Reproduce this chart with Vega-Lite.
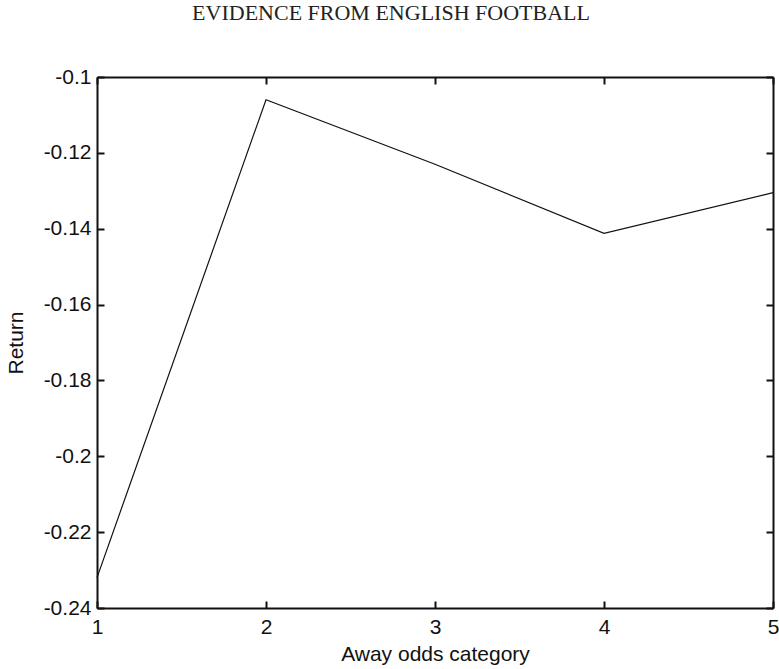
{
  "$schema": "https://vega.github.io/schema/vega-lite/v6.json",
  "autosize": "none",
  "width": 676,
  "height": 531,
  "padding": {"left": 97, "top": 77, "right": 6, "bottom": 61},
  "background": "white",
  "title": {
    "text": "EVIDENCE FROM ENGLISH FOOTBALL",
    "font": "Liberation Serif",
    "fontSize": 22,
    "fontWeight": "normal",
    "color": "#222222",
    "anchor": "middle",
    "baseline": "alphabetic",
    "offset": 24,
    "dx": -44
  },
  "data": {
    "values": [
      {"category": 1, "ret": -0.232},
      {"category": 2, "ret": -0.106},
      {"category": 3, "ret": -0.123},
      {"category": 4, "ret": -0.1412},
      {"category": 5, "ret": -0.1305}
    ]
  },
  "config": {
    "view": {"stroke": null},
    "axis": {
      "grid": false,
      "domainColor": "#111111",
      "domainWidth": 2,
      "tickColor": "#111111",
      "tickWidth": 2,
      "tickSize": -7,
      "labelFont": "Liberation Sans",
      "labelFontSize": 21,
      "labelColor": "#111111",
      "titleFont": "Liberation Sans",
      "titleFontSize": 21,
      "titleFontWeight": "normal",
      "titleColor": "#111111"
    }
  },
  "layer": [
    {
      "mark": {"type": "line", "color": "#111111", "strokeWidth": 1.2},
      "encoding": {
        "x": {
          "field": "category",
          "type": "quantitative",
          "scale": {"domain": [1, 5], "nice": false, "zero": false},
          "axis": {
            "orient": "bottom",
            "values": [1, 2, 3, 4, 5],
            "format": "d",
            "title": "Away odds category",
            "labelPadding": 15,
            "titlePadding": 6,
            "labelFlush": false
          }
        },
        "y": {
          "field": "ret",
          "type": "quantitative",
          "scale": {"domain": [-0.24, -0.1], "nice": false, "zero": false},
          "axis": {
            "orient": "left",
            "values": [-0.24, -0.22, -0.2, -0.18, -0.16, -0.14, -0.12, -0.1],
            "labelExpr": "replace(format(datum.value, '.2~f'), '\u2212', '-')",
            "title": "Return",
            "labelPadding": 13,
            "titlePadding": 17,
            "labelFlush": false
          }
        }
      }
    },
    {
      "mark": {"type": "line", "color": "black", "strokeWidth": 1, "opacity": 0},
      "encoding": {
        "x": {
          "field": "category",
          "type": "quantitative",
          "scale": {"domain": [1, 5], "nice": false, "zero": false},
          "axis": {"orient": "top", "values": [1, 2, 3, 4, 5], "labels": false, "title": null}
        },
        "y": {
          "field": "ret",
          "type": "quantitative",
          "scale": {"domain": [-0.24, -0.1], "nice": false, "zero": false},
          "axis": {"orient": "right", "values": [-0.24, -0.22, -0.2, -0.18, -0.16, -0.14, -0.12, -0.1], "labels": false, "title": null}
        }
      }
    }
  ],
  "resolve": {"axis": {"x": "independent", "y": "independent"}}
}
